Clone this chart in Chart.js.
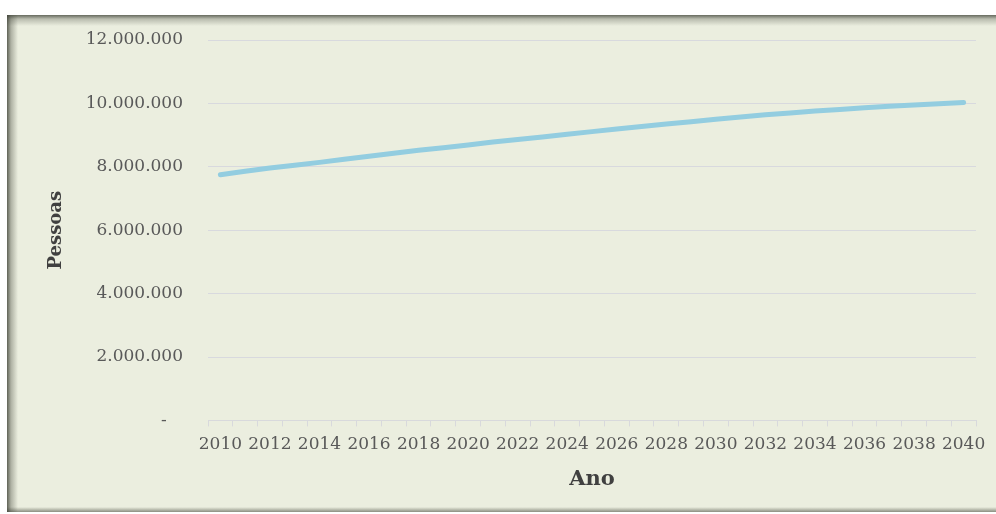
<!DOCTYPE html>
<html>
<head>
<meta charset="utf-8">
<script src="https://cdn.jsdelivr.net/npm/chart.js@4.4.1/dist/chart.umd.min.js"></script>
<style>
  html, body { margin: 0; padding: 0; background: #ffffff; overflow: hidden; }
  #quadro {
    position: absolute; left: 7px; top: 15px; right: 0; height: 497px;
    background:
      linear-gradient(to right, rgba(60, 63, 52, 0.8) 0, rgba(60, 63, 52, 0.35) 4px, rgba(60, 63, 52, 0) 11px),
      linear-gradient(to bottom, rgba(70, 73, 62, 0.8) 0, rgba(70, 73, 62, 0.3) 4px, rgba(70, 73, 62, 0) 11px),
      linear-gradient(to top, rgba(60, 63, 52, 0.55) 0, rgba(60, 63, 52, 0) 5px),
      #ebeedf;
  }
  #wrap { position: absolute; left: 0; top: 0; width: 996px; height: 514px; }
</style>
</head>
<body>
<div id="quadro"></div>
<div id="wrap"><canvas id="grafico"></canvas></div>
<script>
// anos da projeção
const anos = [2010, 2011, 2012, 2013, 2014, 2015, 2016, 2017, 2018, 2019, 2020,
  2021, 2022, 2023, 2024, 2025, 2026, 2027, 2028, 2029, 2030,
  2031, 2032, 2033, 2034, 2035, 2036, 2037, 2038, 2039, 2040];

// população (pessoas)
const pessoas = [7750000, 7860000, 7960000, 8050000, 8140000, 8240000, 8330000, 8430000, 8520000, 8600000, 8690000,
  8780000, 8860000, 8940000, 9030000, 9110000, 9190000, 9270000, 9350000, 9420000, 9500000,
  9570000, 9640000, 9700000, 9760000, 9810000, 9860000, 9910000, 9950000, 9990000, 10030000];

// marcas do eixo Y
const ticksY = [0, 2000000, 4000000, 6000000, 8000000, 10000000, 12000000];

const formatar = v => v === 0 ? '-   ' : String(v).replace(/\B(?=(\d{3})+(?!\d))/g, '.');

document.addEventListener('DOMContentLoaded', () => {
  const ctx = document.getElementById('grafico').getContext('2d');

  new Chart(ctx, {
    type: 'line',
    data: {
      labels: anos.map(String),
      datasets: [{
        label: 'Pessoas',
        data: pessoas,
        borderColor: '#93cde0',
        borderWidth: 5,
        borderCapStyle: 'round',
        borderJoinStyle: 'round',
        pointRadius: 0,
        tension: 0,
        fill: false
      }]
    },
    options: {
      responsive: true,
      maintainAspectRatio: false,
      animation: false,
      layout: { padding: { top: 40, right: 20, bottom: 20, left: 7 } },
      plugins: { legend: { display: false }, tooltip: { enabled: false } },
      scales: {
        x: {
          type: 'category',
          offset: true,
          grid: { offset: true, drawOnChartArea: false, drawTicks: true, tickLength: 6, color: '#d8d9dc' },
          border: { color: '#d8d9dc', width: 1 },
          ticks: {
            autoSkip: false, maxRotation: 0, minRotation: 0, padding: 8,
            color: '#595959',
            font: { family: 'DejaVu Serif', size: 17 },
            callback: (v, i) => i % 2 === 0 ? String(anos[i]) : ''
          },
          title: {
            display: true, text: 'Ano', color: '#404040',
            font: { family: 'DejaVu Serif', size: 21, weight: 'bold' },
            padding: { top: 4, bottom: 2 }
          }
        },
        y: {
          min: 0, max: 12000000,
          afterBuildTicks: axis => { axis.ticks = ticksY.map(v => ({ value: v })); },
          afterFit: axis => { axis.width = 201; },
          grid: { drawTicks: false, color: '#d8d9de' },
          border: { display: false },
          ticks: {
            padding: 25, color: '#595959',
            font: { family: 'DejaVu Serif', size: 17 },
            callback: v => formatar(v)
          },
          title: {
            display: true, text: 'Pessoas', color: '#404040',
            font: { family: 'DejaVu Serif', size: 18, weight: 'bold' },
            padding: { top: 39, bottom: 0 }
          }
        }
      }
    }
  });
});
</script>
</body>
</html>
